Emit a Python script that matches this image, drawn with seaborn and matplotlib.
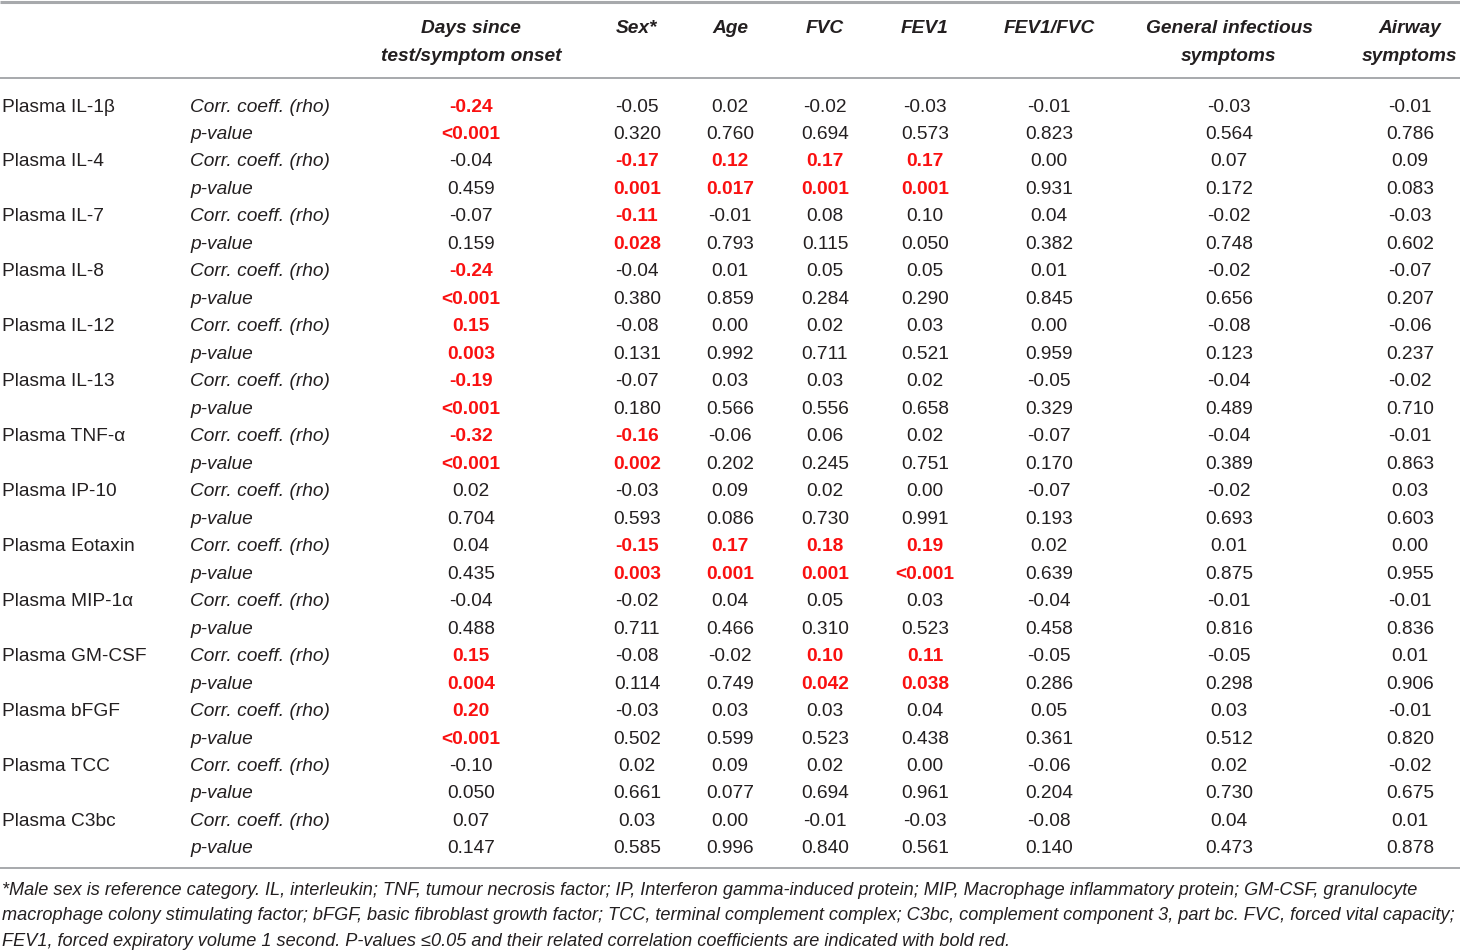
import matplotlib
matplotlib.use("Agg")
import matplotlib.pyplot as plt
import seaborn as sns
from matplotlib import font_manager

# Table content
columns = ["Days since\ntest/symptom onset", "Sex*", "Age", "FVC", "FEV1",
           "FEV1/FVC", "General infectious\nsymptoms", "Airway\nsymptoms"]

markers = ["Plasma IL-1β", "Plasma IL-4", "Plasma IL-7", "Plasma IL-8",
           "Plasma IL-12", "Plasma IL-13", "Plasma TNF-α", "Plasma IP-10",
           "Plasma Eotaxin", "Plasma MIP-1α", "Plasma GM-CSF", "Plasma bFGF",
           "Plasma TCC", "Plasma C3bc"]

rho = [
    ["-0.24", "-0.05", "0.02", "-0.02", "-0.03", "-0.01", "-0.03", "-0.01"],
    ["-0.04", "-0.17", "0.12", "0.17", "0.17", "0.00", "0.07", "0.09"],
    ["-0.07", "-0.11", "-0.01", "0.08", "0.10", "0.04", "-0.02", "-0.03"],
    ["-0.24", "-0.04", "0.01", "0.05", "0.05", "0.01", "-0.02", "-0.07"],
    ["0.15", "-0.08", "0.00", "0.02", "0.03", "0.00", "-0.08", "-0.06"],
    ["-0.19", "-0.07", "0.03", "0.03", "0.02", "-0.05", "-0.04", "-0.02"],
    ["-0.32", "-0.16", "-0.06", "0.06", "0.02", "-0.07", "-0.04", "-0.01"],
    ["0.02", "-0.03", "0.09", "0.02", "0.00", "-0.07", "-0.02", "0.03"],
    ["0.04", "-0.15", "0.17", "0.18", "0.19", "0.02", "0.01", "0.00"],
    ["-0.04", "-0.02", "0.04", "0.05", "0.03", "-0.04", "-0.01", "-0.01"],
    ["0.15", "-0.08", "-0.02", "0.10", "0.11", "-0.05", "-0.05", "0.01"],
    ["0.20", "-0.03", "0.03", "0.03", "0.04", "0.05", "0.03", "-0.01"],
    ["-0.10", "0.02", "0.09", "0.02", "0.00", "-0.06", "0.02", "-0.02"],
    ["0.07", "0.03", "0.00", "-0.01", "-0.03", "-0.08", "0.04", "0.01"],
]

pvals = [
    ["<0.001", "0.320", "0.760", "0.694", "0.573", "0.823", "0.564", "0.786"],
    ["0.459", "0.001", "0.017", "0.001", "0.001", "0.931", "0.172", "0.083"],
    ["0.159", "0.028", "0.793", "0.115", "0.050", "0.382", "0.748", "0.602"],
    ["<0.001", "0.380", "0.859", "0.284", "0.290", "0.845", "0.656", "0.207"],
    ["0.003", "0.131", "0.992", "0.711", "0.521", "0.959", "0.123", "0.237"],
    ["<0.001", "0.180", "0.566", "0.556", "0.658", "0.329", "0.489", "0.710"],
    ["<0.001", "0.002", "0.202", "0.245", "0.751", "0.170", "0.389", "0.863"],
    ["0.704", "0.593", "0.086", "0.730", "0.991", "0.193", "0.693", "0.603"],
    ["0.435", "0.003", "0.001", "0.001", "<0.001", "0.639", "0.875", "0.955"],
    ["0.488", "0.711", "0.466", "0.310", "0.523", "0.458", "0.816", "0.836"],
    ["0.004", "0.114", "0.749", "0.042", "0.038", "0.286", "0.298", "0.906"],
    ["<0.001", "0.502", "0.599", "0.523", "0.438", "0.361", "0.512", "0.820"],
    ["0.050", "0.661", "0.077", "0.694", "0.961", "0.204", "0.730", "0.675"],
    ["0.147", "0.585", "0.996", "0.840", "0.561", "0.140", "0.473", "0.878"],
]

footnote = [
    "*Male sex is reference category. IL, interleukin; TNF, tumour necrosis factor; IP, Interferon gamma-induced protein; MIP, Macrophage inflammatory protein; GM-CSF, granulocyte",
    "macrophage colony stimulating factor; bFGF, basic fibroblast growth factor; TCC, terminal complement complex; C3bc, complement component 3, part bc. FVC, forced vital capacity;",
    "FEV1, forced expiratory volume 1 second. P-values ≤0.05 and their related correlation coefficients are indicated with bold red.",
]


def significant(p):
    return p.startswith("<") or float(p) < 0.05


sns.set_theme(style="white")
available = {f.name for f in font_manager.fontManager.ttflist}
base = "Liberation Sans Narrow" if "Liberation Sans Narrow" in available else "Liberation Sans"
narrow = base == "Liberation Sans Narrow"
plt.rcParams["font.family"] = [base, "DejaVu Sans"]

TXT = "#231f20"
RED = "#fa1010"
LINE = "#a7a9ac"

fig = plt.figure(figsize=(14.6, 9.52), dpi=100)
ax = fig.add_axes([0, 0, 1, 1])
ax.set_xlim(0, 1460)
ax.set_ylim(952, 0)
ax.axis("off")

fs = 16.3 if narrow else 13.8

col_x = [471, 637, 730, 825, 925, 1049, 1229, 1410]

# rules
for y, lw in [(2, 2.2), (78, 1.4), (868, 1.4)]:
    ax.plot([0, 1460], [y, y], color=LINE, lw=lw, solid_capstyle="butt")

# header (top-aligned lines)
for x, name in zip(col_x, columns):
    for k, part in enumerate(name.split("\n")):
        ax.text(x, 33 + k * 28, part, ha="center", va="baseline", fontsize=fs,
                style="italic", fontweight="bold", color=TXT)

# body
row_y0, row_h = 111.5, 27.48
for i, m in enumerate(markers):
    y1 = row_y0 + 2 * i * row_h
    y2 = y1 + row_h
    ax.text(2, y1, m, ha="left", va="baseline", fontsize=fs, color=TXT)
    ax.text(190, y1, "Corr. coeff. (rho)", ha="left", va="baseline", fontsize=fs,
            style="italic", color=TXT)
    ax.text(190, y2, "p-value", ha="left", va="baseline", fontsize=fs,
            style="italic", color=TXT)
    for j, x in enumerate(col_x):
        sig = significant(pvals[i][j])
        kw = dict(ha="center", va="baseline", fontsize=fs,
                  color=RED if sig else TXT,
                  fontweight="bold" if sig else "normal")
        ax.text(x, y1, rho[i][j], **kw)
        ax.text(x, y2, pvals[i][j], **kw)

# footnote: fit the full lines to the table width (justified look)
renderer = fig.canvas.get_renderer()
note_texts = []
for k, line in enumerate(footnote):
    t = ax.text(2, 895 + k * 25.5, line, ha="left", va="baseline", fontsize=16,
                style="italic", color=TXT)
    note_texts.append(t)
sizes = []
for t in note_texts[:2]:
    w = t.get_window_extent(renderer).width
    sizes.append(16 * 1456 / w)
fs_note = min(sizes)
for t in note_texts:
    t.set_fontsize(fs_note)

fig.savefig("out.png", dpi=100)
